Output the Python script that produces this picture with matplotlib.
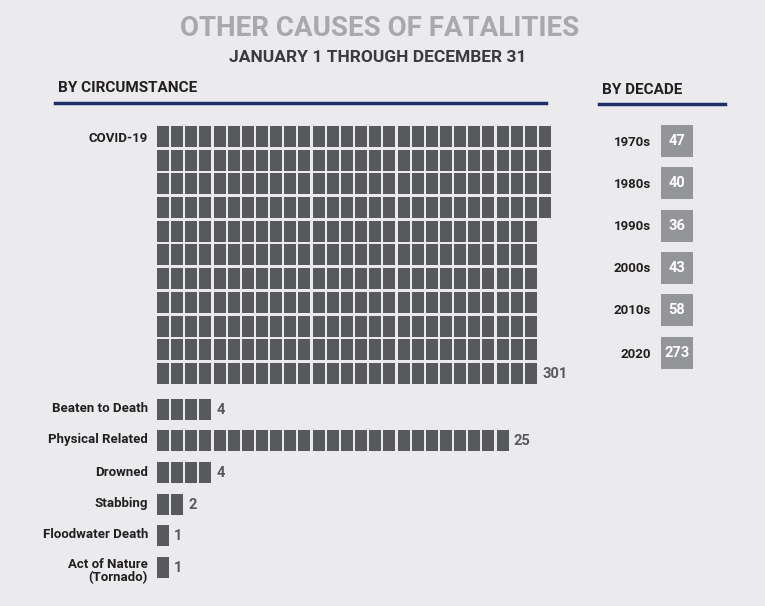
import matplotlib.pyplot as plt
from matplotlib.patches import Rectangle

# data
categories = ["COVID-19", "Beaten to Death", "Physical Related", "Drowned",
              "Stabbing", "Floodwater Death", "Act of Nature\n(Tornado)"]
counts = [301, 4, 25, 4, 2, 1, 1]
covid_row_sizes = [28, 28, 28, 28, 27, 27, 27, 27, 27, 27, 27]
decades = ["1970s", "1980s", "1990s", "2000s", "2010s", "2020"]
decade_counts = [47, 40, 36, 43, 58, 273]

bg = "#ebebee"
sq_color = "#58595b"
box_color = "#939598"
navy = "#1f2f6b"

fig = plt.figure(figsize=(7.65, 6.06), dpi=100, facecolor=bg)
ax = fig.add_axes([0, 0, 1, 1])
ax.set_xlim(0, 765)
ax.set_ylim(606, 0)
ax.axis("off")
ax.set_facecolor(bg)

fb = "Roboto"
ax.text(380, 28, "OTHER CAUSES OF FATALITIES", ha="center", va="center",
        fontsize=20, fontweight="bold", color="#a7a9ac", family=fb)
ax.text(378, 58, "JANUARY 1 THROUGH DECEMBER 31", ha="center", va="center",
        fontsize=12.5, fontweight="heavy", color="#3a3a3c", family=fb)
ax.text(58, 88, "BY CIRCUMSTANCE", ha="left", va="center", fontsize=11,
        fontweight="heavy", color="#231f20", family=fb)
ax.plot([55, 546], [103, 103], color=navy, lw=2.5)
ax.text(602, 90, "BY DECADE", ha="left", va="center", fontsize=11,
        fontweight="heavy", color="#231f20", family=fb)
ax.plot([599, 725], [104, 104], color=navy, lw=2.5)

x0, pitch_x, w = 157, 14.15, 12
pitch_y, h = 23.7, 21
lab = dict(fontsize=9.5, fontweight="heavy", color="#231f20", family=fb)


def draw_row(y_top, n):
    for i in range(n):
        ax.add_patch(Rectangle((x0 + i * pitch_x, y_top), w, h, color=sq_color, lw=0))


# COVID block
y = 126
for n in covid_row_sizes:
    draw_row(y, n)
    y += pitch_y
last_y = 126 + (len(covid_row_sizes) - 1) * pitch_y
ax.text(148, 138, categories[0], ha="right", va="center", **lab)
ax.text(x0 + covid_row_sizes[-1] * pitch_x + 3, last_y + h / 2 + 1, str(counts[0]),
        ha="left", va="center", fontsize=10.5, fontweight="bold", color="#58595b", family=fb)

centers = [409, 440, 472, 504, 535, 567]
for cat, n, cy in zip(categories[1:], counts[1:], centers):
    draw_row(cy - h / 2, n)
    ax.text(148, cy + (4 if "\n" in cat else 0), cat, ha="right", va="center",
            linespacing=1.0, **lab)
    ax.text(x0 + n * pitch_x + 3, cy + 1, str(n), ha="left", va="center",
            fontsize=10.5, fontweight="bold", color="#58595b", family=fb)

dy = [141, 183, 226, 268, 310, 353]
for d, c, cy in zip(decades, decade_counts, dy):
    ax.add_patch(Rectangle((661, cy - 16), 32, 32, color=box_color, lw=0))
    ax.text(677, cy, str(c), ha="center", va="center", fontsize=10.5,
            fontweight="bold", color="white", family=fb)
    ax.text(651, cy + 1, d, ha="right", va="center", **lab)

fig.savefig("out.png", dpi=100, facecolor=bg)
